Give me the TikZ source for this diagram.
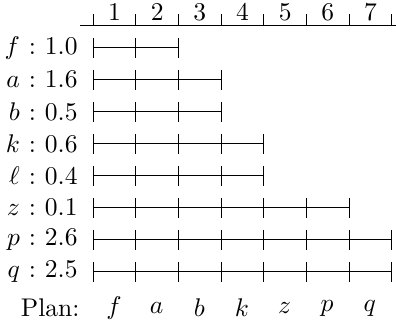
\documentclass[tikz,border=0pt]{standalone}
\begin{document}
\begin{tikzpicture}[x=0.4286pt,y=-0.4286pt,
  font=\fontsize{10.95}{13.6}\selectfont,
  bar/.style={line width=0.45pt},
  tk/.style={line width=0.45pt},
  lbl/.style={anchor=east,inner sep=0pt},
  hdr/.style={inner sep=0pt},
  plan/.style={inner sep=0pt}]
\useasboundingbox (0,0) rectangle (396,333);
% header
\coordinate (hl) at (80,25.7);
\coordinate (hr) at (396,25.7);
\draw[tk] (hl) -- (hr);
\foreach \i in {0,...,7}{
  \coordinate (ht\i) at ({93.3+42.63*\i},25.7);
  \draw[tk] (ht\i) -- ++(0,-12);
}
\foreach \i in {1,...,7}{
  \node[hdr] (h\i) at ({93.3+42.63*(\i-0.5)},12.5) {$\i$};
}
% rows
\foreach \n/\lab/\len [count=\r from 0] in {f/{f\mathrel{\kern0.8pt:\kern0.8pt}1.0}/2,a/{a\mathrel{\kern0.8pt:\kern0.8pt}1.6}/3,b/{b\mathrel{\kern0.8pt:\kern0.8pt}0.5}/3,k/{k\mathrel{\kern0.8pt:\kern0.8pt}0.6}/4,l/{\ell\mathrel{\kern0.8pt:\kern0.8pt}0.4}/4,z/{z\mathrel{\kern0.8pt:\kern0.8pt}0.1}/6,p/{p\mathrel{\kern0.8pt:\kern0.8pt}2.6}/7,q/{q\mathrel{\kern0.8pt:\kern0.8pt}2.5}/7}{
  \node[lbl] (L\n) at (78,{47.7+32*\r}) {$\lab$};
  \coordinate (s\n) at (93.3,{47.7+32*\r});
  \coordinate (e\n) at ({93.3+42.63*\len},{47.7+32*\r});
  \draw[bar] (s\n) -- (e\n);
  \foreach \j in {0,...,\len}{
    \draw[tk] ({93.3+42.63*\j},{47.7+32*\r-10}) -- ++(0,20);
  }
}
% plan
\node[plan,anchor=east] (plan) at (80,308) {Plan:};
\foreach \n [count=\i from 0] in {f,a,b,k,z,p,q}{
  \node[plan] (P\n) at ({114+42.63*\i},308) {$\n$};
}
\end{tikzpicture}
\end{document}
